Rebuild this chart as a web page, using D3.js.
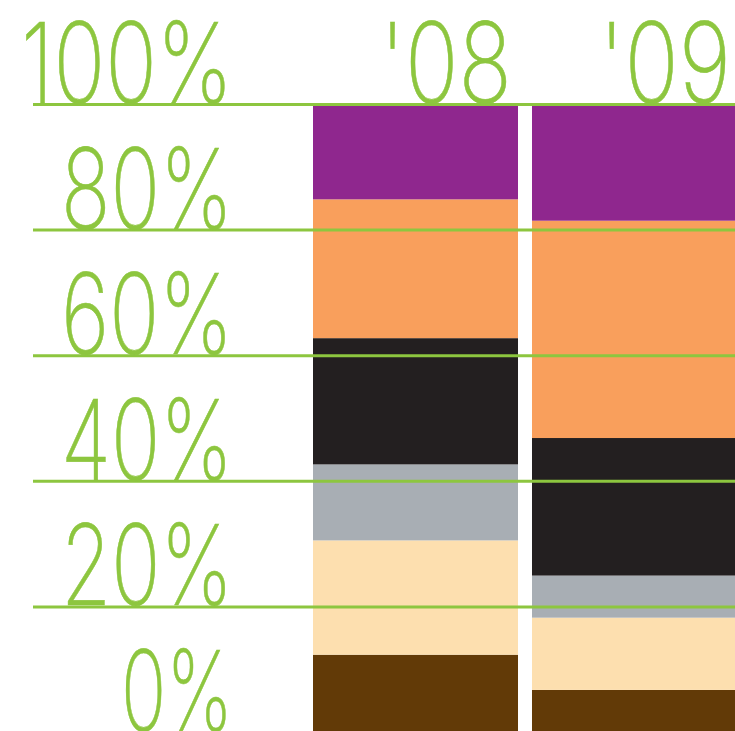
<!DOCTYPE html>
<html><head><meta charset="utf-8">
<script src="https://cdn.jsdelivr.net/npm/d3@7"></script>
<style>html,body{margin:0;padding:0;background:#fff;overflow:hidden}</style>
</head><body>
<svg id="chart" width="735" height="731"></svg>
<script>
const years = ["'08", "'09"];
const categories = ["brown", "cream", "gray", "black", "orange", "purple"];
const values08 = [12.4, 18.2, 12.1, 20.1, 22.1, 15.1];
const values09 = [6.8, 11.5, 6.7, 21.9, 34.6, 18.5];
const tickValues = [0, 20, 40, 60, 80, 100];
const tickLabels = ["0%", "20%", "40%", "60%", "80%", "100%"];
const colors = ["#623a07", "#fddfaf", "#a8aeb4", "#231f20", "#f99f5c", "#8f278e"];
const green = "#8dc63f";

const svg = d3.select("#chart");
const y = d3.scaleLinear().domain([0, 100]).range([732.6, 104.5]);
const x = d3.scaleBand().domain(years).range([313, 737]).paddingInner(0.0639).paddingOuter(0);
const color = d3.scaleOrdinal().domain(categories).range(colors);

const rows = years.map((yr, i) => {
  const o = {year: yr};
  const vals = i === 0 ? values08 : values09;
  categories.forEach((c, j) => o[c] = vals[j]);
  return o;
});
const stack = d3.stack().keys(categories)(rows);

svg.append("g").selectAll("g").data(stack).join("g")
  .attr("fill", d => color(d.key))
  .selectAll("rect").data(d => d).join("rect")
  .attr("x", d => x(d.data.year))
  .attr("width", x.bandwidth())
  .attr("y", d => y(d[1]))
  .attr("height", d => Math.max(0, y(d[0]) - y(d[1])));

// gridlines
svg.append("g").selectAll("line").data(tickValues.filter(v => v > 0)).join("line")
  .attr("x1", 33).attr("x2", 735)
  .attr("y1", d => y(d)).attr("y2", d => y(d))
  .attr("stroke", green).attr("stroke-width", 3);

const fontFamily = "Inter, 'DejaVu Sans', sans-serif";
const widths = {"0%": 112, "20%": 172, "40%": 172, "60%": 172, "80%": 172, "100%": 212};
svg.append("g").selectAll("text").data(tickValues).join("text")
  .attr("x", 233)
  .attr("y", d => y(d) - 1.5)
  .attr("text-anchor", "end")
  .attr("font-family", fontFamily)
  .attr("font-weight", 200)
  .attr("font-size", 112)
  .attr("fill", green)
  .attr("stroke", green).attr("stroke-width", 0.6)
  .attr("textLength", (d, i) => widths[tickLabels[i]])
  .attr("lengthAdjust", "spacingAndGlyphs")
  .text((d, i) => tickLabels[i]);

svg.append("g").selectAll("text").data(years).join("text")
  .attr("x", d => x(d) + x.bandwidth() - 6)
  .attr("y", y(100) - 1.5)
  .attr("text-anchor", "end")
  .attr("font-family", fontFamily)
  .attr("font-weight", 200)
  .attr("font-size", 112)
  .attr("fill", green)
  .attr("stroke", green).attr("stroke-width", 0.6)
  .attr("textLength", 132)
  .attr("lengthAdjust", "spacingAndGlyphs")
  .text(d => d);
</script>
</body></html>
